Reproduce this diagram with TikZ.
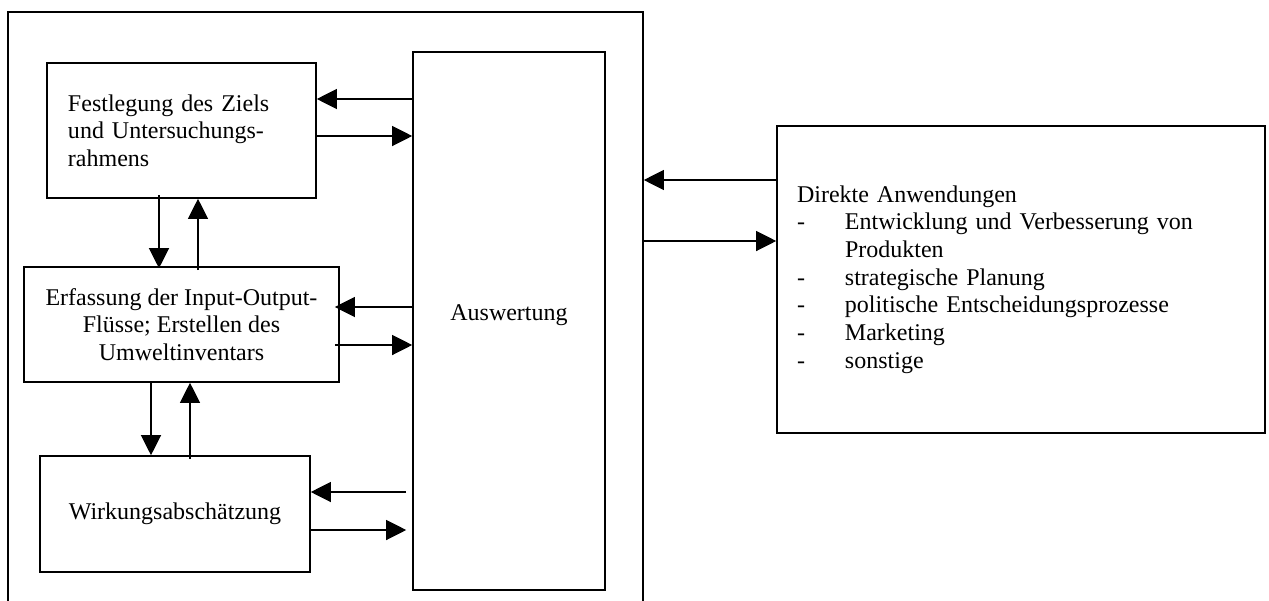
\documentclass[tikz,border=0pt]{standalone}
\usepackage{fontspec}
\setmainfont{Liberation Serif}
\usepackage{tikz}
\usetikzlibrary{arrows.meta,positioning,calc}
\newcommand{\listdash}{\makebox[24pt][l]{-}}
\tikzset{
  lcabox/.style={rectangle, draw, line width=0.8pt, inner sep=0pt,
                 font={\fontsize{12}{13.85}\selectfont}},
  arr/.style={-{Triangle[length=10pt,width=10pt]}, line width=0.6pt},
}
\begin{document}
\begin{tikzpicture}[x=0.5pt, y=-0.5pt]
    \useasboundingbox (0,0) rectangle (1269,600);
    \node[lcabox, minimum width=317.5pt, minimum height=299pt] (lca) at (325.5,311) {};
    \node[lcabox, minimum width=134.5pt, minimum height=67.5pt, text width=113.5pt,
          inner xsep=10.5pt, align=left] (fz) at (181.5,130.5)
          {Festlegung des Ziels\\und Untersuchungs-\\rahmens};
    \node[lcabox, minimum width=157.5pt, minimum height=57.5pt, align=center] (ef) at (181.5,324.5)
          {Erfassung der Input-Output-\\Flüsse; Erstellen des\\Umweltinventars};
    \node[lcabox, minimum width=135pt, minimum height=58pt] (wa) at (175,514) {Wirkungsabschätzung};
    \node[lcabox, minimum width=96pt, minimum height=269pt, text depth=8.5pt] (aw) at (509,321) {Auswertung};
    \node[lcabox, minimum width=244pt, minimum height=153.5pt, text width=224pt,
          inner xsep=10pt, align=left] (da) at (1021,279.5)
          {Direkte Anwendungen\\
           \listdash Entwicklung und Verbesserung von\\
           \hspace*{24pt}Produkten\\
           \listdash strategische Planung\\
           \listdash politische Entscheidungsprozesse\\
           \listdash Marketing\\
           \listdash sonstige};
    \draw[arr] ([yshift=15.75pt]fz.east -| aw.west) -- ([yshift=15.75pt]fz.east);
    \draw[arr] ([yshift=-2.75pt]fz.east) -- ([yshift=-2.75pt]fz.east -| aw.west);
    \draw[arr, shorten >=-2.5pt] ([yshift=8.75pt]ef.east -| aw.west) -- ([yshift=8.75pt]ef.east);
    \draw[arr, shorten <=-2.5pt] ([yshift=-10.25pt]ef.east) -- ([yshift=-10.25pt]ef.east -| aw.west);
    \draw[arr, shorten <=3pt] ([yshift=11pt]wa.east -| aw.west) -- ([yshift=11pt]wa.east);
    \draw[arr, shorten >=3pt] ([yshift=-8pt]wa.east) -- ([yshift=-8pt]wa.east -| aw.west);
    \draw[arr, shorten <=-2pt, shorten >=-1pt] ([xshift=-11.25pt]fz.south) -- ([xshift=-11.25pt]fz.south |- ef.north);
    \draw[arr, shorten <=-2pt] ([xshift=8.25pt]fz.south |- ef.north) -- ([xshift=8.25pt]fz.south);
    \draw[arr] ([xshift=-15.25pt]ef.south) -- ([xshift=-15.25pt]ef.south |- wa.north);
    \draw[arr, shorten <=-2pt] ([xshift=4.25pt]ef.south |- wa.north) -- ([xshift=4.25pt]ef.south);
    \draw[arr] ([yshift=49.75pt]da.west) -- ([yshift=49.75pt]da.west -| lca.east);
    \draw[arr] ([yshift=19.25pt]da.west -| lca.east) -- ([yshift=19.25pt]da.west);
\end{tikzpicture}
\end{document}
